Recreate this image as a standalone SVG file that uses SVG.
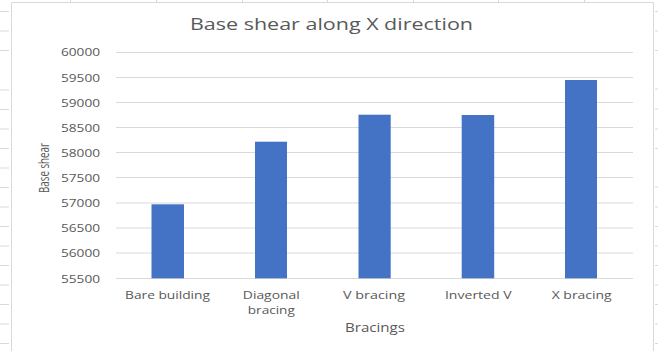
<svg xmlns="http://www.w3.org/2000/svg" width="658" height="351" viewBox="0 0 658 351">
  <style>
    .sheet { stroke: #d9d9d9; stroke-width: 1; }
    .grid { stroke: #d9d9d9; stroke-width: 1; }
    .bar { fill: #4472c4; }
    .t { font-family: "Open Sans", "Noto Sans", sans-serif; fill: #595959; }
    .ylab { font-size: 11px; text-anchor: end; }
    .xlab { font-size: 11.5px; text-anchor: middle; }
  </style>
  <rect x="0" y="0" width="658" height="351" fill="#ffffff"/>
  <!-- spreadsheet cell lines peeking out -->
  <g id="sheet" class="sheet">
    <path d="M0 11.5H9M0 31H9M0 50.5H9M0 90H9M0 109.5H9M0 129H9M0 148.5H9M0 168H9M0 187.5H9M0 207H9M0 226.5H9M0 246H9M0 265.5H9M0 285H9M0 304.5H9M0 324H9M0 343.5H9"/>
    <path d="M655 11.5H658M655 31H658M655 50.5H658M655 89H658M655 109H658M655 129H658M655 148.5H658M655 187H658M655 207H658M655 226.5H658M655 246H658M655 265.5H658M655 285H658M655 304.5H658M655 324H658M655 343.5H658"/>
    <path d="M70.5 0V2M156.5 0V2M242.5 0V2M327.5 0V2M413.5 0V2M498.5 0V2M584.5 0V2"/>
  </g>
  <!-- chart border -->
  <path d="M11.5 351V2.5H653.5V351" fill="none" stroke="#d9d9d9" stroke-width="1"/>
  <!-- title -->
  <text class="t" x="331.5" y="30" font-size="16.5" text-anchor="middle" textLength="283" lengthAdjust="spacingAndGlyphs">Base shear along X direction</text>
  <!-- gridlines -->
  <g id="gridlines" class="grid">
    <line x1="116" y1="52.5" x2="633" y2="52.5"/>
    <line x1="116" y1="77.5" x2="633" y2="77.5"/>
    <line x1="116" y1="102.5" x2="633" y2="102.5"/>
    <line x1="116" y1="127.5" x2="633" y2="127.5"/>
    <line x1="116" y1="152.5" x2="633" y2="152.5"/>
    <line x1="116" y1="177.5" x2="633" y2="177.5"/>
    <line x1="116" y1="203" x2="633" y2="203"/>
    <line x1="116" y1="228" x2="633" y2="228"/>
    <line x1="116" y1="253" x2="633" y2="253"/>
    <line x1="116" y1="278.5" x2="633" y2="278.5"/>
  </g>
  <!-- y axis labels -->
  <g id="yaxis" class="t ylab">
    <text x="100" y="56" textLength="39" lengthAdjust="spacingAndGlyphs">60000</text>
    <text x="100" y="81.5" textLength="39" lengthAdjust="spacingAndGlyphs">59500</text>
    <text x="100" y="106.5" textLength="39" lengthAdjust="spacingAndGlyphs">59000</text>
    <text x="100" y="131.5" textLength="39" lengthAdjust="spacingAndGlyphs">58500</text>
    <text x="100" y="156.5" textLength="39" lengthAdjust="spacingAndGlyphs">58000</text>
    <text x="100" y="181.5" textLength="39" lengthAdjust="spacingAndGlyphs">57500</text>
    <text x="100" y="207" textLength="39" lengthAdjust="spacingAndGlyphs">57000</text>
    <text x="100" y="232" textLength="39" lengthAdjust="spacingAndGlyphs">56500</text>
    <text x="100" y="257" textLength="39" lengthAdjust="spacingAndGlyphs">56000</text>
    <text x="100" y="282.5" textLength="39" lengthAdjust="spacingAndGlyphs">55500</text>
  </g>
  <text class="t" x="0" y="0" font-size="11" text-anchor="middle" textLength="50" lengthAdjust="spacingAndGlyphs" transform="translate(48.5,168) rotate(-90) scale(1,1.3)">Base shear</text>
  <!-- bars -->
  <g id="bar-bare"><rect class="bar" x="151.5" y="204.3" width="32.5" height="74"/></g>
  <g id="bar-diagonal"><rect class="bar" x="255" y="141.7" width="32" height="136.6"/></g>
  <g id="bar-v"><rect class="bar" x="358.5" y="114.7" width="32.2" height="163.6"/></g>
  <g id="bar-inverted"><rect class="bar" x="461.7" y="115" width="32.5" height="163.3"/></g>
  <g id="bar-x"><rect class="bar" x="565" y="80" width="32" height="198.3"/></g>
  <!-- category labels -->
  <g id="xaxis" class="t xlab">
    <text x="167.5" y="299" textLength="85" lengthAdjust="spacingAndGlyphs">Bare building</text>
    <text x="271.3" y="298.5" textLength="57" lengthAdjust="spacingAndGlyphs">Diagonal</text>
    <text x="271.3" y="313.5" textLength="47" lengthAdjust="spacingAndGlyphs">bracing</text>
    <text x="374" y="298.5" textLength="62" lengthAdjust="spacingAndGlyphs">V bracing</text>
    <text x="478.3" y="298.5" textLength="66.7" lengthAdjust="spacingAndGlyphs">Inverted V</text>
    <text x="581.7" y="298.5" textLength="60" lengthAdjust="spacingAndGlyphs">X bracing</text>
  </g>
  <text class="t" x="375" y="332" font-size="12.5" text-anchor="middle" textLength="60" lengthAdjust="spacingAndGlyphs">Bracings</text>
</svg>
